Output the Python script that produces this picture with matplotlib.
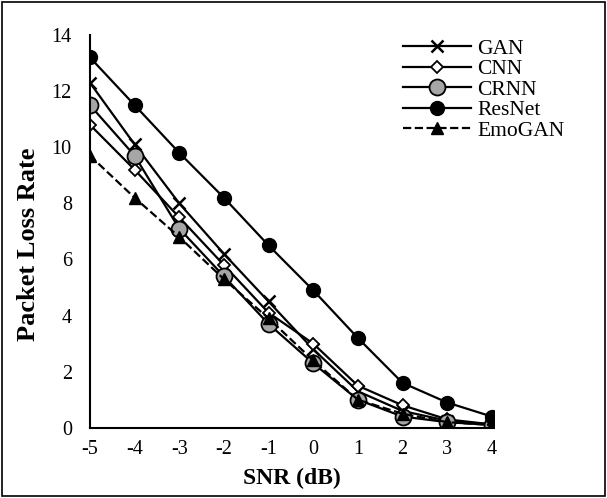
import matplotlib.pyplot as plt
from matplotlib.patches import Rectangle

snr = [-5, -4, -3, -2, -1, 0, 1, 2, 3, 4]
gan = [12.3, 10.1, 8.0, 6.2, 4.5, 2.8, 1.3, 0.6, 0.25, 0.12]
cnn = [10.8, 9.2, 7.5, 5.8, 4.1, 3.0, 1.5, 0.8, 0.3, 0.12]
crnn = [11.5, 9.7, 7.1, 5.4, 3.7, 2.3, 1.0, 0.4, 0.2, 0.1]
resnet = [13.2, 11.5, 9.8, 8.2, 6.5, 4.9, 3.2, 1.6, 0.9, 0.4]
emogan = [9.7, 8.2, 6.8, 5.3, 3.9, 2.4, 1.0, 0.5, 0.2, 0.1]

plt.rcParams['font.family'] = ['Liberation Serif', 'DejaVu Serif']
plt.rcParams['axes.unicode_minus'] = False

fig = plt.figure(figsize=(6.07, 4.98), dpi=100)
ax = fig.add_axes([0.148, 0.141, 0.666, 0.789])

lw = 1.6
ax.plot(snr, gan, color='black', lw=lw, marker='x', ms=8, mew=1.8, label='GAN')
ax.plot(snr, cnn, color='black', lw=lw, marker='D', ms=6, mfc='white', mec='black', mew=1.3, label='CNN')
ax.plot(snr, crnn, color='black', lw=lw, marker='o', ms=11.5, mfc='#a6a6a6', mec='black', mew=1.3, label='CRNN')
ax.plot(snr, resnet, color='black', lw=lw, marker='o', ms=10, mfc='black', mec='black', label='ResNet')
ax.plot(snr, emogan, color='black', lw=lw, ls='--', marker='^', ms=8, mfc='black', mec='black', label='EmoGAN')

ax.set_xlim(-5, 4.05)
ax.set_ylim(0, 14)
ax.set_xticks(snr)
ax.set_yticks(range(0, 15, 2))
ax.tick_params(length=0, labelsize=14.5)
ax.tick_params(axis='y', pad=13)
ax.tick_params(axis='x', pad=9)
for side in ('top', 'right'):
    ax.spines[side].set_visible(False)
for side in ('left', 'bottom'):
    ax.spines[side].set_linewidth(1.5)

ax.set_xlabel('SNR (dB)', fontsize=17, fontweight='bold', labelpad=6)
ax.set_ylabel('Packet Loss Rate', fontsize=19, fontweight='bold', labelpad=8, y=0.466)

ax.legend(loc='upper left', bbox_to_anchor=(0.748, 1.018), frameon=False, fontsize=15.5,
          handlelength=3.15, labelspacing=0.02, handletextpad=0.3, borderpad=0)

# outer frame around the whole figure
fig.patches.append(Rectangle((0.004, 0.005), 0.992, 0.99, transform=fig.transFigure,
                             fill=False, edgecolor='black', lw=1.2))

fig.savefig('out.png', dpi=100)
